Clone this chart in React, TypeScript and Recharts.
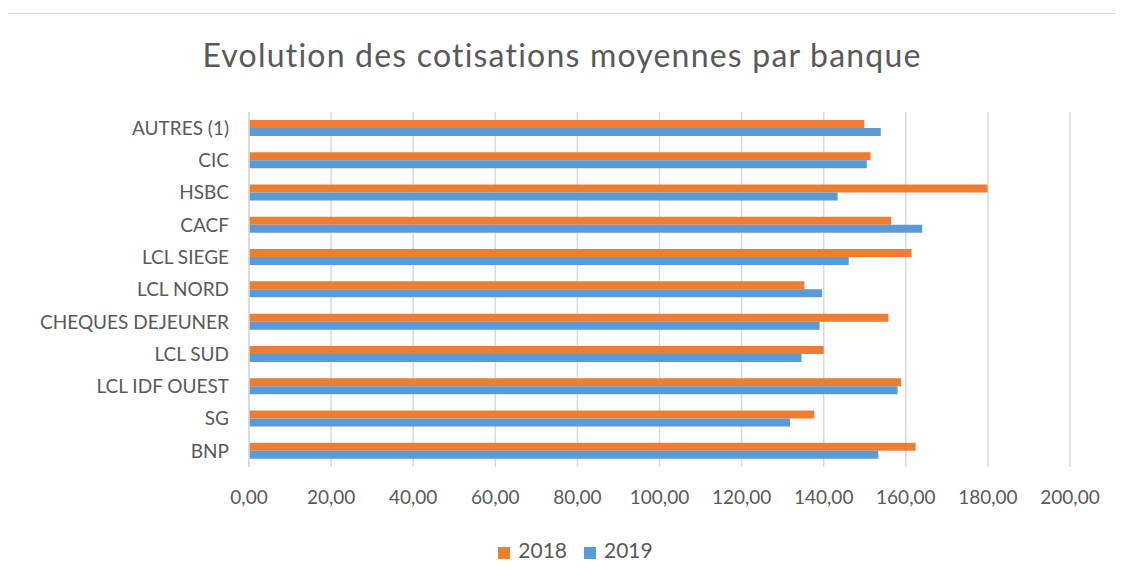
import { BarChart, Bar, XAxis, YAxis, CartesianGrid, Legend } from "recharts";

const banques = [
  "AUTRES (1)",
  "CIC",
  "HSBC",
  "CACF",
  "LCL SIEGE",
  "LCL NORD",
  "CHEQUES DEJEUNER",
  "LCL SUD",
  "LCL IDF OUEST",
  "SG",
  "BNP",
];
const cotis2018 = [149.9, 151.4, 179.9, 156.4, 161.4, 135.3, 155.8, 140.0, 158.9, 137.7, 162.4];
const cotis2019 = [153.9, 150.5, 143.4, 164.0, 146.1, 139.6, 139.0, 134.6, 158.0, 131.8, 153.3];
const xTicks = [0, 20, 40, 60, 80, 100, 120, 140, 160, 180, 200];

const data = banques.map((b, i) => ({
  banque: b,
  "2018": cotis2018[i],
  "2019": cotis2019[i],
}));

const font = "Lato, 'Open Sans', sans-serif";
const grey = "#595959";

export default function App() {
  return (
    <div
      style={{
        position: "relative",
        width: 1108,
        height: 570,
        marginLeft: -1,
        marginTop: 5,
        border: "1px solid #d9d9d9",
        background: "#fff",
        fontFamily: font,
      }}
    >
      <div
        style={{
          position: "absolute",
          top: 21,
          left: 0,
          width: "100%",
          textAlign: "center",
          fontSize: 32,
          letterSpacing: 1.2,
          color: grey,
        }}
      >
        Evolution des cotisations moyennes par banque
      </div>
      <BarChart
        width={1108}
        height={570}
        data={data}
        layout="vertical"
        margin={{ top: 98, right: 46, bottom: 36, left: 0 }}
        barGap={0}
        barSize={8}
      >
        <CartesianGrid horizontal={false} stroke="#d9d9d9" strokeWidth={1.5} />
        <XAxis
          type="number"
          domain={[0, 200]}
          ticks={xTicks}
          tickFormatter={(v: number) => v.toFixed(2).replace(".", ",")}
          axisLine={false}
          tickLine={false}
          tickMargin={18}
          height={56}
          tick={{ fill: grey, fontSize: 19, fontFamily: font }}
        />
        <YAxis
          type="category"
          dataKey="banque"
          width={241}
          axisLine={{ stroke: "#d9d9d9", strokeWidth: 1.5 }}
          tickLine={false}
          tickMargin={14}
          tick={{ fill: grey, fontSize: 19, fontFamily: font }}
        />
        <Legend
          verticalAlign="bottom"
          iconType="square"
          iconSize={12}
          wrapperStyle={{ fontSize: 21, fontFamily: font, top: 523, left: 45 }}
          formatter={(v: string) => (
            <span style={{ color: grey, marginLeft: 4, marginRight: 7 }}>{v}</span>
          )}
        />
        <Bar dataKey="2018" fill="#ED7D31" isAnimationActive={false} />
        <Bar dataKey="2019" fill="#5B9BD5" isAnimationActive={false} />
      </BarChart>
    </div>
  );
}
